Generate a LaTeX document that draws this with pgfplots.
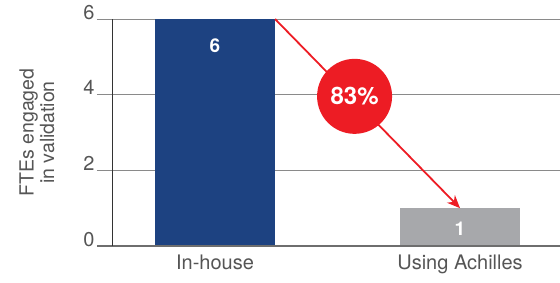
\documentclass[border=0pt]{standalone}
\usepackage{pgfplots}
\pgfplotsset{compat=1.18}
\usepackage{fontspec}
\setmainfont{TeX Gyre Heros}
\usetikzlibrary{arrows.meta}
\definecolor{barblue}{HTML}{1D4281}
\definecolor{bargray}{HTML}{A7A8AB}
\definecolor{arrowred}{HTML}{ED1C24}
\definecolor{txtgray}{HTML}{555555}
\definecolor{gridgray}{HTML}{8A8A8A}
\begin{document}
\begin{tikzpicture}
\begin{axis}[
  scale only axis, width=463pt, height=227pt,
  xmin=-0.4816, xmax=1.408, ymin=0, ymax=6,
  axis line style={draw=none},
  xtick={0,1}, xticklabels={In-house, Using Achilles},
  ytick={0,2,4,6},
  major tick length=0pt,
  ymajorgrids, grid style={gridgray, line width=0.9pt},
  tick label style={font=\fontsize{20}{22}\selectfont, text=txtgray},
  /pgf/number format/assume math mode=true,
  yticklabel style={anchor=base east, xshift=1pt},
  xticklabel style={anchor=base, yshift=-23pt},
  ylabel={FTEs engaged\\in validation},
  ylabel style={align=center, at={(axis description cs:-0.1296,0.5)}, anchor=center,
    font=\fontsize{19.5}{20.5}\selectfont, text=txtgray},
  ybar, bar width=120pt,
  clip=false,
]
\addplot[fill=barblue, draw=none, bar shift=0pt,
  nodes near coords, every node near coord/.append style={anchor=north, yshift=-16pt, text=white, font=\bfseries\fontsize{19}{20}\selectfont}]
  coordinates {(0,6)};
\addplot[fill=bargray, draw=none, bar shift=0pt,
  nodes near coords, every node near coord/.append style={anchor=north, yshift=-10pt, text=white, font=\bfseries\fontsize{19}{20}\selectfont}]
  coordinates {(1,1)};
\draw[gridgray!80!black, line width=1.6pt] (axis cs:-0.4816,0) -- (axis cs:1.408,0);
\draw[black!80, line width=0.9pt] (axis cs:-0.4204,0) -- (axis cs:-0.4204,6);
\draw[arrowred, line width=1.8pt, -{Stealth[length=13pt,width=11pt]}]
  (axis cs:0.245,6) -- (axis cs:1,1)
  node[pos=0.43, yshift=4pt, circle, fill=arrowred, minimum size=75pt, inner sep=0pt,
       text=white, font=\bfseries\fontsize{24}{26}\selectfont] {83\%};
\end{axis}
\pgfresetboundingbox
\path[use as bounding box] (-97pt,-36pt) rectangle (463pt,246pt);
\end{tikzpicture}
\end{document}
